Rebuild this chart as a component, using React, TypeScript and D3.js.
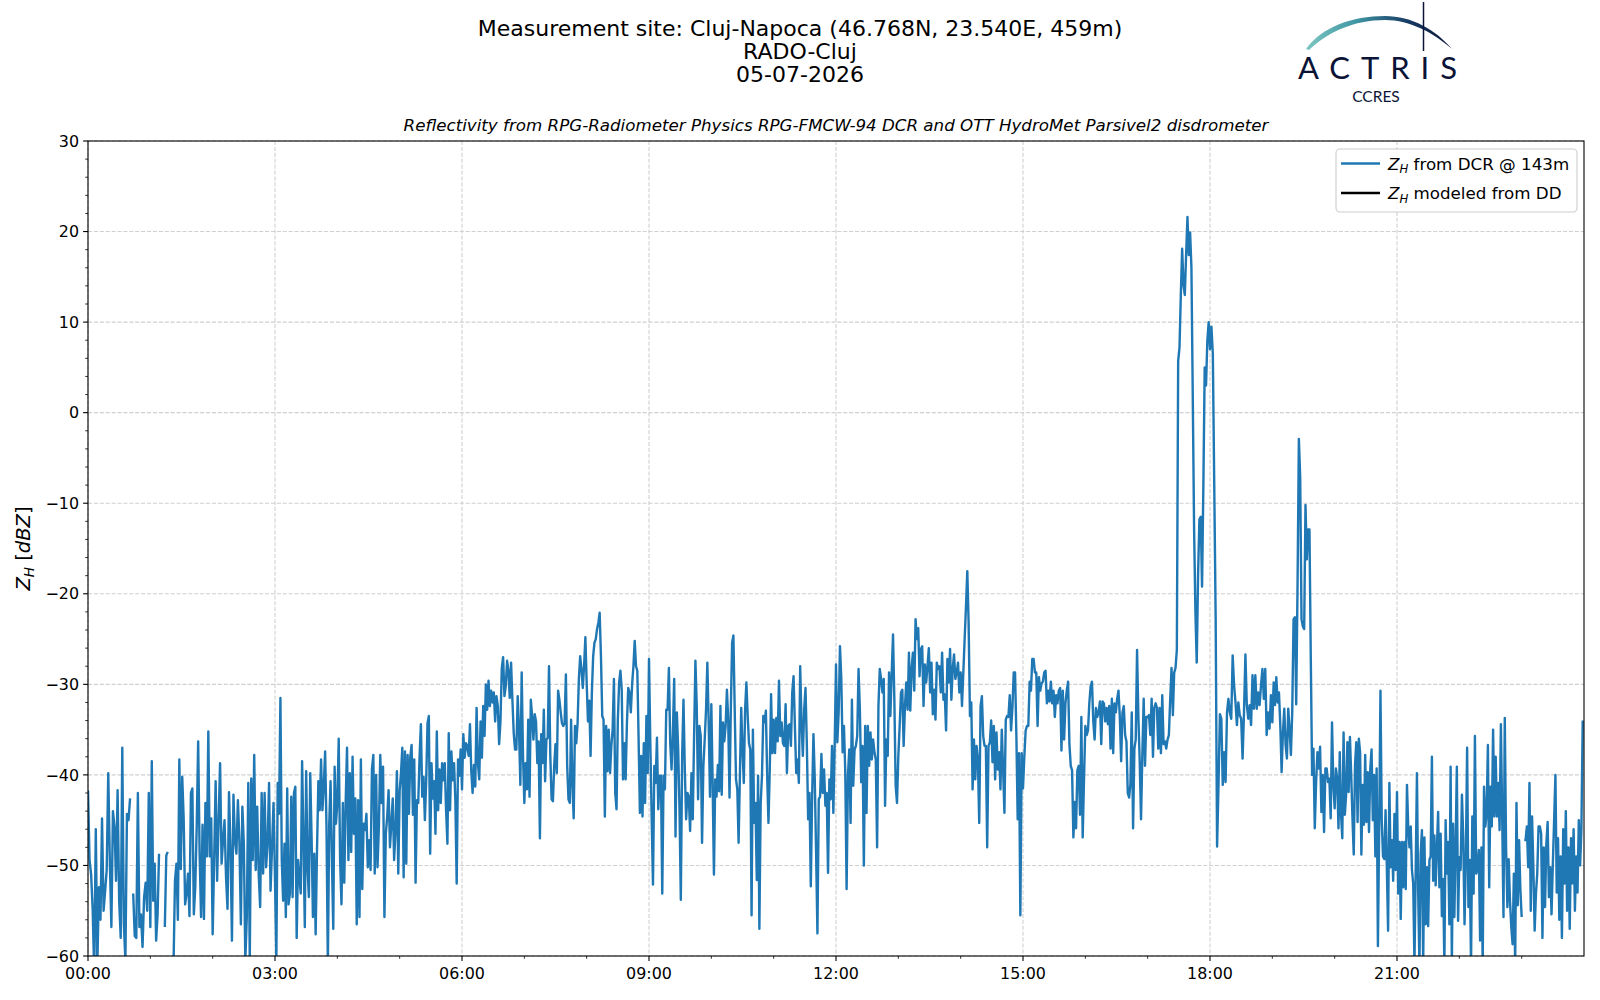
import React, { useEffect } from 'react';
import * as d3 from 'd3';

// Z_H from DCR @ 143m, one array per hour of the day (dBZ), null = no data
const zh00 = [-41.7, -49.4, -51, -54.8, -62, -46, -61, -52.4, -56, -44.8, -55, -52.8, -50.5, -39.8, -49.4, -56.8, -44, -45.7, -51.7, -41.7, -53.9, -58, -37, -56.4, -60.5, -44.3, -45, -42.6, null, -53.1, -57.8, -58, -42, -56.8, -55.4, -59, -53.5, -51.9, -55, -42];
const zh01 = [-56.8, -38.5, -53.9, -49.8, -58.3, -55.4, -48.7, null, null, null, -56.8, -48.9, -48.5, null, null, null, -61, -51.7, -49.8, -56, -38.3, -50.4, -40.2, -44.8, -54.3, -53.1, -50.9, -55.6, -42, -41.5, -55.4, -52.4, -45.7, -36.3, -48.7, -55.7, -45.5, -55.9, -43.1, -49, -35.2, -49, -44.8];
const zh02 = [-57.6, -49.4, -40.7, -51.7, -45, -38.7, -49.8, -47.2, -45, -51.3, -54.8, -41.9, -48, -58.3, -42.2, -47.2, -48.7, -42.8, -47.2, -56.5, -43.5, -47.6, -60.5, -55.7, -40.9, -60.5, -40.4, -49.4, -37.8, -50.5, -43.5, -50.9, -54.6, -42, -50.9, -42, -50.2, -47.6, -40.9, -52.8, -48, -43.1];
const zh03 = [-51.5, -60.5, -40.9, -44.3, -31.5, -49.4, -53.9, -47.6, -55.7, -41.5, -54.3, -53.1, -42.4, -53.5, -42, -41.3, -58, -49.4, -51.3, -53.1, -38.5, -47.2, -56.8, -39.6, -50.2, -53.5, -39.8, -46.9, -55.7, -48.7, -57.6, -48.3, -40.7, -43.9, -38.3, -43.9, -41.3, -37.4, -45.7, -61, -45.5, -40.7, -49.4, -57, -39.1, -45.4];
const zh04 = [-43.1, -36, -49.4, -54.3, -43.1, -51.9, -43.1, -37, -49.4, -39.8, -48.5, -38, -46.5, -42.6, -56.5, -42.8, -55.7, -38.3, -52.6, -45.4, -46.1, -44.3, -50.2, -47.2, -50.5, -39.3, -37.8, -50.9, -40, -50.2, -45.7, -37.8, -43.1, -39.1, -55.7, -46.5, -44.6, -41.7, -48, -45.4, -42.6, -49.4, -46.1, -39.6, -50.9];
const zh05 = [-41.7, -39.8, -37, -51.3, -37.4, -49.8, -37.8, -44.3, -38, -36.7, -44.4, -38.3, -51.9, -42.8, -43.1, -38, -34.4, -42.4, -40.2, -45, -40.7, -34.3, -33.5, -48.7, -38.7, -42.6, -40.7, -46.5, -35.2, -43.9, -39.4, -43.1, -38.7, -40.6, -38.7, -43.9, -47.6, -35.4, -43.9, -37.4, -40.6, -38.7, -42.8, -52, -38.3, -40.1, -37.2];
const zh06 = [-41.6, -35.5, -38.1, -36.5, -36.8, -37.9, -34.4, -39.6, -42, -38.9, -41.3, -32.6, -38.7, -40.5, -34.1, -38.1, -32.4, -35.7, -30, -32.8, -29.6, -32.4, -30.7, -32, -30.9, -34.1, -31.3, -32.4, -36.6, -34.1, -28.2, -27, -31.3, -30.2, -27.4, -28.5, -31.5, -27.6, -31.7, -35.4, -37.2, -37.2, -31.3, -35, -41.1, -28.7, -37.9];
const zh07 = [-43.1, -38.7, -41.6, -33.9, -42.4, -31.7, -33.5, -36.1, -33.3, -34.1, -38.7, -36.3, -47, -35.5, -38.7, -32.8, -40.7, -36.1, -35.9, -28, -37.9, -42.7, -42.9, -39, -36.6, -39.8, -30.7, -31.7, -33.1, -34.3, -34.6, -34.3, -28.9, -39, -42.7, -43.1, -33.9, -40.9, -44.8, -34.6, -36.5, -34.3, -29.4, -26.9, -28.3, -30.4, -28, -24.8];
const zh08 = [-29.8, -34.1, -31.8, -37.9, -30.9, -26.9, -25.4, -25, -23.9, -23.2, -22.1, -26.9, -33.5, -33.9, -44.6, -34.6, -39.6, -35, -39.8, -36.8, -35, -29.4, -42, -43.8, -33.9, -29.8, -28.5, -30.6, -40.5, -36.5, -40.5, -34.3, -30.4, -30.9, -33.1, -30, -28, -25.2, -28, -28.5, -36.1, -44.2, -37.9, -44.6, -36.5, -43.1, -33.5, -39.8];
const zh09 = [-27.2, -36.5, -44.6, -52.1, -39, -40.9, -35.9, -43.8, -40.1, -40.1, -53.1, -40.1, -41.6, -32.8, -32.8, -28.2, -36.5, -39.4, -35.4, -29.4, -46.8, -33.1, -37.2, -43.8, -53.8, -37.9, -31.7, -39.4, -44.9, -42, -42.4, -46.2, -39.8, -44.9, -35.7, -27.4, -32.4, -42.7, -34.6, -35.7, -47.5, -39, -36.1, -32.8, -27.6, -34.2, -42.4];
const zh10 = [-32.2, -40.9, -51, -40.5, -42.4, -38.9, -41.8, -32.4, -42.2, -34.2, -36.3, -34.6, -30.6, -33.9, -42.5, -32.8, -25.4, -24.6, -32.8, -40.5, -41.6, -47.5, -40.1, -32.6, -37.2, -40.9, -32.8, -29.8, -33.5, -36.5, -37.2, -55.5, -35, -45.3, -43.1, -51.6, -40.1, -57, -43.1, -40.1, -33.5, -34.2, -32.9, -40.1, -45.3, -39.4, -31.1, -37.6];
const zh11 = [-33.9, -37.6, -33.7, -36.3, -29.6, -35.7, -34.2, -36.5, -36.8, -32.2, -39.8, -34.6, -34.4, -36.8, -30.9, -29.1, -34.6, -39.8, -38.3, -40.9, -28, -34.2, -37.9, -32.8, -30.4, -36.5, -44.9, -42, -52.3, -42.4, -35.5, -40.5, -48.6, -57.5, -42.7, -42.4, -37.7, -42, -39.4, -43.4, -42, -50.8, -40.5, -42.7, -36.8, -44.2, -36.8];
const zh12 = [-27.8, -36.4, -33.1, -25.8, -29.4, -37.5, -34.6, -39.7, -52.6, -40.1, -37.2, -45.3, -31.7, -41.2, -37.2, -36.8, -35.7, -28.3, -32.8, -40.8, -36.8, -50, -34.6, -44.2, -34.6, -39, -35.3, -38.3, -36.1, -37.5, -38.3, -48, -32.4, -28.3, -29.4, -30.9, -29.4, -43.4, -36.1, -37.9, -28.7, -33.5, -28.7, -24.5, -31.7, -41.2, -43.1];
const zh13 = [-37.9, -34.6, -30.9, -30.6, -36.8, -32.4, -29.8, -32.8, -26.5, -32.9, -28.3, -26.5, -30.7, -22.8, -25, -23.8, -29.1, -26.1, -25.8, -32.4, -27.8, -29.8, -28, -26, -30.9, -27.6, -33.3, -30.6, -33.9, -27.6, -28.3, -28, -30.9, -26.5, -31.7, -31.1, -35.1, -27.2, -29.8, -26.1, -31.7, -28.3, -26.7, -29.4, -28.7, -27.6, -30.9];
const zh14 = [-28.7, -32.4, -28.7, -25, -21.4, -17.5, -23.2, -33.5, -32, -41.6, -36.1, -40.5, -36.8, -38.3, -45.3, -32.4, -31.3, -35.7, -36.8, -36.8, -48, -36.8, -36.4, -34, -38.6, -34.6, -40.5, -35.3, -39.4, -37.5, -41.6, -35, -39.4, -44.2, -33.9, -33.5, -33.6, -31.2, -35.1, -32.6, -28.7, -28.7, -35.6, -44.9, -37.6, -55.5, -37.6];
const zh15 = [-41.5, -38, -35.1, -34.6, -34.6, -29.7, -30.7, -27.2, -27.2, -28.7, -28.7, -34.6, -29.2, -30.7, -29.9, -29.7, -28.7, -28.5, -32.1, -30.7, -31.9, -29.7, -32.1, -30.7, -33.6, -31.2, -32.1, -30.7, -30.4, -37.3, -30.7, -36.1, -32.1, -30.7, -29.7, -36.6, -39, -39.5, -46.9, -43, -45.9, -39.5, -39, -44.4, -33.6, -46.9, -40.5];
const zh16 = [-34.6, -35.6, -35.1, -32.1, -30.2, -29.7, -34.1, -36.1, -32.6, -33.6, -33.1, -31.9, -36.6, -31.9, -32.1, -34.1, -32.6, -34.4, -32.4, -37.1, -31.6, -37.6, -32.1, -33.1, -31.6, -30.7, -33.6, -38.5, -33.1, -32.4, -35.6, -36.3, -42, -42.5, -41, -33.1, -45.9, -37.1, -36.1, -26.2, -33.6, -38.5, -44.9, -37.6, -31.6, -39, -33.6];
const zh17 = [-33.6, -33.4, -35.6, -31.6, -38, -32.6, -32.1, -32.6, -37.1, -32.6, -37.6, -31.2, -36.6, -36.3, -37.1, -36.1, -35.6, -31.6, -28.2, -33.4, -28.7, -28.2, -26.2, 5.7, 7.2, 13, 18.1, 14.1, 13, 17.5, 21.6, 17.4, 19.9, 16, 1.9, -12.8, -22, -27.6, -18, -11.8, -11.5, -19.2, -8, 5, 3, 8, 10];
const zh18 = [7, 9.5, 6.5, -8, -22.8, -47.9, -41.1, -33.3, -33.8, -41.1, -37.5, -40.8, -33.1, -31.6, -33.1, -33.8, -26.8, -30.1, -32, -34.5, -32, -33.4, -33.8, -38.2, -33.1, -26.7, -32.3, -33.8, -32.3, -34.5, -29, -32.7, -29, -32.7, -30.9, -32.3, -30.1, -28.3, -31.6, -28.3, -35.6, -33.1, -34.9, -31.2];
const zh19 = [-34.2, -29.8, -32.3, -29.2, -32, -30.9, -34.5, -39.7, -35.3, -32.7, -36.7, -38.2, -32.7, -34.9, -37.8, -33.1, -22.8, -22.6, -32.2, -19.2, -2.9, -7.1, -22.8, -23.6, -23.9, -10.2, -16.2, -12.9, -12.9, -27.2, -40, -37.1, -45.9, -40.8, -37.5, -39.3, -36.9, -44.1, -40, -46.3, -39.3, -39.3, -40.8, -40.4, -44.8, -34.2, -41.1];
const zh20 = [-43.7, -39.3, -40.4, -45.9, -37.5, -44.4, -47, -35.3, -44.4, -42.2, -36.4, -41.9, -35.8, -40, -44.8, -48.8, -38.9, -36.4, -45.2, -36, -37.5, -48.8, -41.1, -45.5, -37.8, -45.2, -39.7, -46.3, -39.3, -37.2, -45, -40, -49, -39.3, -58.9, -45.7, -30.7, -45, -49, -49.3, -43.9, -50.2, -57.2, -40.9, -50.2, -47.2, -51.7, -44.3, -50.5];
const zh21 = [-41.9, -53.1, -47.4, -55.9, -47.4, -52.4, -47.4, -52.6, -41.1, -45.7, -48, -45.7, -50.5, -52, -61, -50.5, -39.8, -53.1, -61, -48.7, -46.1, -61, -46.9, -56.5, -50.2, -56.7, -49.4, -49, -38, -51.7, -46.7, -52.2, -48, -44.1, -52.4, -46.5, -55.6, -51.5, -61, -45, -50.9, -47.4, -56.5, -39.1, -61, -45.4, -55.7, -48, -39.1, -56.1];
const zh22 = [-49.1, -50.5, -42.2, -46.9, -56.5, -49.4, -37, -54.6, -49.4, -61, -44.6, -53.1, -35.7, -50.9, -50.4, -48.3, -58.3, -48, -61, -41.3, -45.7, -44.3, -36.7, -52.4, -41.3, -45.7, -35, -44.6, -38, -44.6, -40.9, -46.1, -34.4, -44.6, -55.7, -33.7, -48, -54.6, -49.3, -53.9, -56.8, -58.7, -50.9, -61, -43.1, -54.4, -47.2, -52.6];
const zh23 = [-55.7, null, -47.2, -47.2, -45.7, -50.2, -40.9, -55, -44.6, -50.2, -57.2, -53.1, -50.9, -45.7, -45.7, -46.5, -58, -48, -54.6, -47.6, -45.2, -53.5, -50.2, -55.4, -49.8, -45, -40, -53, -47, -56, -49, -58, -46, -52, -44, -55, -48, -57, -47, -52, -46, -55, -49, -53, -45, -50, -46, -34];

const hourlyZh = [zh00, zh01, zh02, zh03, zh04, zh05, zh06, zh07, zh08, zh09, zh10, zh11,
  zh12, zh13, zh14, zh15, zh16, zh17, zh18, zh19, zh20, zh21, zh22, zh23];

const titleLines = ['Measurement site: Cluj-Napoca (46.768N, 23.540E, 459m)', 'RADO-Cluj', '05-07-2026'];
const subtitle = 'Reflectivity from RPG-Radiometer Physics RPG-FMCW-94 DCR and OTT HydroMet Parsivel2 disdrometer';
const xMajorHours = [0, 3, 6, 9, 12, 15, 18, 21];
const yMajorTicks = [-60, -50, -40, -30, -20, -10, 0, 10, 20, 30];
const legendItems = [
  { label: ' from DCR @ 143m', color: '#1f77b4' },
  { label: ' modeled from DD', color: '#000000' },
];

const FONT = '"DejaVu Sans", sans-serif';
const left = 88, right = 1584, top = 141, bottom = 956;

type Pt = { t: number; v: number | null };

export default function App() {
  useEffect(() => { document.body.style.margin = '0'; }, []);

  const x = d3.scaleLinear().domain([0, 24]).range([left, right]);
  const y = d3.scaleLinear().domain([-60, 30]).range([bottom, top]);

  const points: Pt[] = hourlyZh.flatMap((vals, h) => vals.map((v, i) => ({ t: h + i / vals.length, v })));
  const line = d3.line<Pt>()
    .defined(d => d.v !== null)
    .x(d => x(d.t))
    .y(d => y(d.v as number));

  const xMinor = d3.range(0, 25).filter(h => h % 3 !== 0);
  const yMinor = d3.range(-60, 31, 2).filter(v => v % 10 !== 0);
  const fmtHour = (h: number) => `${String(h).padStart(2, '0')}:00`;
  const fmtY = (v: number) => (v < 0 ? `\u2212${Math.abs(v)}` : `${v}`);

  return (
    <svg width={1600} height={1000} style={{ position: 'absolute', left: 0, top: 0, background: '#fff' }} fontFamily={FONT}>
      <defs>
        <clipPath id="plot-clip">
          <rect x={left} y={top} width={right - left} height={bottom - top} />
        </clipPath>
        <linearGradient id="actris-grad" x1="0" x2="1" y1="0" y2="0">
          <stop offset="0%" stopColor="#7cc7c2" />
          <stop offset="35%" stopColor="#3f95a3" />
          <stop offset="70%" stopColor="#173a63" />
          <stop offset="100%" stopColor="#0b1437" />
        </linearGradient>
      </defs>

      {/* titles */}
      {titleLines.map((t, i) => (
        <text key={t} x={800} y={36 + i * 23} textAnchor="middle" fontSize={22} fill="#000">{t}</text>
      ))}
      <text x={(left + right) / 2} y={131} textAnchor="middle" fontSize={16.7} fontStyle="italic" fill="#000">{subtitle}</text>

      {/* ACTRIS logo */}
      <g>
        <path d="M1306,49 C1322,27 1352,16 1385,16 C1412,16 1436,30 1452,49 C1434,33 1410,20 1385,20 C1354,20 1328,32 1309,50 Z" fill="url(#actris-grad)" />
        <line x1={1423.5} x2={1423.5} y1={2} y2={51} stroke="#0b1437" strokeWidth={1.5} />
        <text x={1298} y={79} fontSize={31} fontFamily='Lato, "DejaVu Sans", sans-serif' fontWeight={400} fill="#0b1437" textLength={159} lengthAdjust="spacing">ACTRIS</text>
        <text x={1376} y={102} textAnchor="middle" fontSize={15.5} fontFamily='Lato, "DejaVu Sans", sans-serif' fill="#0b1437">CCRES</text>
      </g>

      {/* grid */}
      <g stroke="#d0d0d0" strokeWidth={1.1} strokeDasharray="4.1,1.8">
        {xMajorHours.map(h => <line key={`gx${h}`} x1={x(h)} x2={x(h)} y1={top} y2={bottom} />)}
        {yMajorTicks.map(v => <line key={`gy${v}`} x1={left} x2={right} y1={y(v)} y2={y(v)} />)}
      </g>

      {/* data */}
      <path d={line(points) || ''} fill="none" stroke="#1f77b4" strokeWidth={2.4} strokeLinejoin="round" clipPath="url(#plot-clip)" />

      {/* frame */}
      <rect x={left} y={top} width={right - left} height={bottom - top} fill="none" stroke="#000" strokeWidth={1.1} />

      {/* ticks */}
      <g stroke="#000">
        {xMajorHours.map(h => <line key={`xt${h}`} x1={x(h)} x2={x(h)} y1={bottom} y2={bottom + 4.9} strokeWidth={1.1} />)}
        {xMinor.map(h => <line key={`xm${h}`} x1={x(h)} x2={x(h)} y1={bottom} y2={bottom + 2.8} strokeWidth={0.8} />)}
        {yMajorTicks.map(v => <line key={`yt${v}`} x1={left - 4.9} x2={left} y1={y(v)} y2={y(v)} strokeWidth={1.1} />)}
        {yMinor.map(v => <line key={`ym${v}`} x1={left - 2.8} x2={left} y1={y(v)} y2={y(v)} strokeWidth={0.8} />)}
      </g>
      {xMajorHours.map(h => (
        <text key={`xl${h}`} x={x(h)} y={bottom + 23} textAnchor="middle" fontSize={15.9} fill="#000">{fmtHour(h)}</text>
      ))}
      {yMajorTicks.map(v => (
        <text key={`yl${v}`} x={left - 9} y={y(v) + 5.7} textAnchor="end" fontSize={15.9} fill="#000">{fmtY(v)}</text>
      ))}

      {/* y label */}
      <text transform={`translate(30,${(top + bottom) / 2}) rotate(-90)`} textAnchor="middle" fontSize={19.5} fill="#000">
        <tspan fontStyle="italic">Z</tspan>
        <tspan fontStyle="italic" fontSize={13.6} dy={4}>H</tspan>
        <tspan dy={-4}> [</tspan>
        <tspan fontStyle="italic">dBZ</tspan>
        <tspan>]</tspan>
      </text>

      {/* legend */}
      <g>
        <rect x={1336} y={149} width={241} height={63} rx={4} fill="#fff" fillOpacity={0.8} stroke="#cccccc" strokeWidth={1.1} />
        {legendItems.map((it, i) => {
          const cy = 163.5 + i * 29.5;
          return (
            <g key={it.label}>
              <line x1={1341} x2={1380} y1={cy} y2={cy} stroke={it.color} strokeWidth={2.4} />
              <text x={1388} y={cy + 6} fontSize={16.7} fill="#000">
                <tspan fontStyle="italic">Z</tspan>
                <tspan fontStyle="italic" fontSize={11.7} dy={3.5}>H</tspan>
                <tspan dy={-3.5}>{it.label}</tspan>
              </text>
            </g>
          );
        })}
      </g>
    </svg>
  );
}
